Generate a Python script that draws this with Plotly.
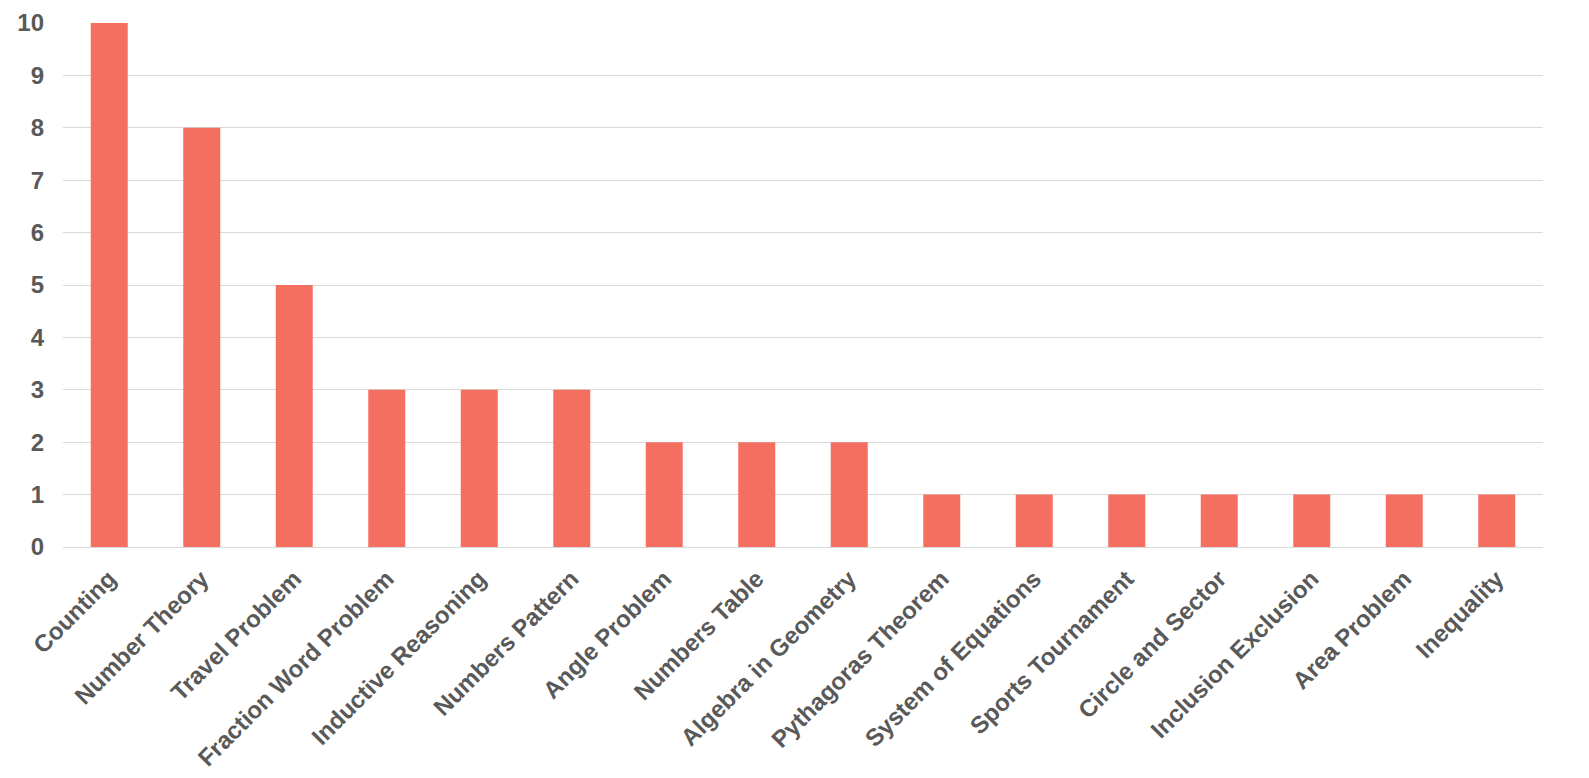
import plotly.graph_objects as go

categories = ["Counting", "Number Theory", "Travel Problem", "Fraction Word Problem",
              "Inductive Reasoning", "Numbers Pattern", "Angle Problem", "Numbers Table",
              "Algebra in Geometry", "Pythagoras Theorem", "System of Equations",
              "Sports Tournament", "Circle and Sector", "Inclusion Exclusion",
              "Area Problem", "Inequality"]
values = [10, 8, 5, 3, 3, 3, 2, 2, 2, 1, 1, 1, 1, 1, 1, 1]
y_ticks = list(range(0, 11))

fig = go.Figure(go.Bar(x=categories, y=values, marker_color="#F46F60",
                       marker_line_width=0))

fig.update_layout(
    width=1589, height=778,
    margin=dict(l=63, r=46, t=23, b=231, autoexpand=False),
    plot_bgcolor="white", paper_bgcolor="white",
    bargap=0.6,
    showlegend=False,
    font=dict(family="Liberation Sans, Arial", color="#595959", size=24),
)
fig.update_xaxes(tickangle=-45, tickfont=dict(size=24, weight="bold", color="#595959"),
                 showgrid=False, showline=False, ticks="", ticklabelstandoff=12,
                 automargin=False)
fig.update_yaxes(range=[0, 10], tickvals=y_ticks, showgrid=True, gridcolor="#D9D9D9",
                 gridwidth=1, zeroline=True, zerolinecolor="#D9D9D9", zerolinewidth=1,
                 tickfont=dict(size=24, weight="bold", color="#595959"),
                 ticks="", ticklabelstandoff=18, showline=False, automargin=False)

fig.write_html("out.html")
